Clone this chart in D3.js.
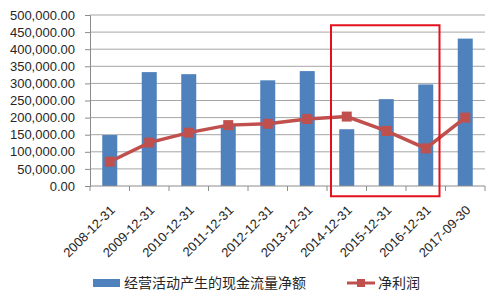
<!DOCTYPE html>
<html>
<head>
<meta charset="utf-8">
<script src="https://cdn.jsdelivr.net/npm/d3@7"></script>
<style>
  body { margin: 0; background: #fff; }
  svg text { font-family: "Liberation Sans", "Noto Sans CJK SC", sans-serif; fill: #262626; }
  .legend text { font-family: "Noto Sans CJK SC", sans-serif; }
</style>
</head>
<body>
<svg id="chart" width="502" height="301"></svg>
<script>
//Chart values.
let dates = ['2008-12-31', '2009-12-31', '2010-12-31', '2011-12-31', '2012-12-31',
  '2013-12-31', '2014-12-31', '2015-12-31', '2016-12-31', '2017-09-30'];
let cashFlow = [149000, 333000, 327000, 176000, 309000, 336000, 166000, 254000, 297000, 431000];
let netProfit = [71000, 127000, 156000, 178000, 182000, 196000, 203000, 161000, 110000, 200000];
let yTicks = [0, 50000, 100000, 150000, 200000, 250000, 300000, 350000, 400000, 450000, 500000];
let seriesNames = ['经营活动产生的现金流量净额', '净利润'];
//The highlighted years (red box).
let highlight = ['2014-12-31', '2016-12-31'];

let svg = d3.select('#chart');
let plotLeft = 90, plotRight = 485, plotTop = 15, plotBottom = 186;

let xc = d3.scaleBand().domain(dates).range([plotLeft, plotRight]);
let y = d3.scaleLinear().domain([0, 500000]).range([plotBottom, plotTop]);
let mid = d => xc(d) + xc.bandwidth() / 2;
let barW = xc.bandwidth() * 0.38;

//Horizontal gridlines.
svg.append('g').selectAll('line')
  .data(yTicks.slice(1))
  .join('line')
  .attr('x1', plotLeft).attr('x2', plotRight)
  .attr('y1', d => y(d)).attr('y2', d => y(d))
  .attr('stroke', '#a6a6a6').attr('stroke-width', 1);

//Y axis.
let yAxis = d3.axisLeft(y).tickValues(yTicks).tickSize(5).tickFormat(d3.format(',.2f'));
let ya = svg.append('g').attr('transform', 'translate(' + plotLeft + ',0)').call(yAxis);
ya.select('.domain').attr('stroke', '#8c8c8c');
ya.selectAll('.tick line').attr('stroke', '#8c8c8c');
ya.selectAll('text').attr('x', -15).style('font-size', '13px').attr('fill', '#262626');

//Bars.
svg.append('g').selectAll('rect')
  .data(cashFlow)
  .join('rect')
  .attr('x', (d, i) => mid(dates[i]) - barW / 2)
  .attr('y', d => y(d))
  .attr('width', barW)
  .attr('height', d => y(0) - y(d))
  .attr('fill', '#4f81bd');

//X axis with ticks at the category edges.
svg.append('line').attr('x1', plotLeft).attr('x2', plotRight).attr('y1', plotBottom).attr('y2', plotBottom)
  .attr('stroke', '#8c8c8c');
svg.append('g').selectAll('line')
  .data(dates.concat(['end']))
  .join('line')
  .attr('x1', (d, i) => plotLeft + i * xc.step()).attr('x2', (d, i) => plotLeft + i * xc.step())
  .attr('y1', plotBottom).attr('y2', plotBottom + 5)
  .attr('stroke', '#8c8c8c');

svg.append('g').selectAll('text')
  .data(dates)
  .join('text')
  .attr('transform', d => 'translate(' + (mid(d) + 6) + ',' + (plotBottom + 25) + ')rotate(-45)')
  .attr('text-anchor', 'end')
  .style('font-size', '13px')
  .text(d => d);

//Net profit line.
let line = d3.line()
  .x((d, i) => mid(dates[i]))
  .y(d => y(d));
svg.append('path')
  .attr('d', line(netProfit))
  .attr('fill', 'none')
  .attr('stroke', '#c0504d')
  .attr('stroke-width', 3.5);
svg.append('g').selectAll('rect')
  .data(netProfit)
  .join('rect')
  .attr('x', (d, i) => mid(dates[i]) - 5)
  .attr('y', d => y(d) - 5)
  .attr('width', 10).attr('height', 10)
  .attr('fill', '#c0504d');

//Red highlight box around 2014-2016.
svg.append('rect')
  .attr('x', xc(highlight[0]) + 4)
  .attr('y', y(470000))
  .attr('width', xc(highlight[1]) + xc.bandwidth() - 6 - xc(highlight[0]) - 4)
  .attr('height', y(-30000) - y(470000))
  .attr('fill', 'none')
  .attr('stroke', '#e3111c')
  .attr('stroke-width', 2);

//Legend.
let legend = svg.append('g').attr('class', 'legend');
legend.append('rect').attr('x', 93).attr('y', 279).attr('width', 27).attr('height', 8).attr('fill', '#4f81bd');
legend.append('text').attr('x', 124).attr('y', 288).style('font-size', '14px').text(seriesNames[0]);
legend.append('line').attr('x1', 347).attr('x2', 375).attr('y1', 283).attr('y2', 283)
  .attr('stroke', '#c0504d').attr('stroke-width', 3);
legend.append('rect').attr('x', 357).attr('y', 279).attr('width', 8).attr('height', 8).attr('fill', '#c0504d');
legend.append('text').attr('x', 378).attr('y', 288).style('font-size', '14px').text(seriesNames[1]);
</script>
</body>
</html>
